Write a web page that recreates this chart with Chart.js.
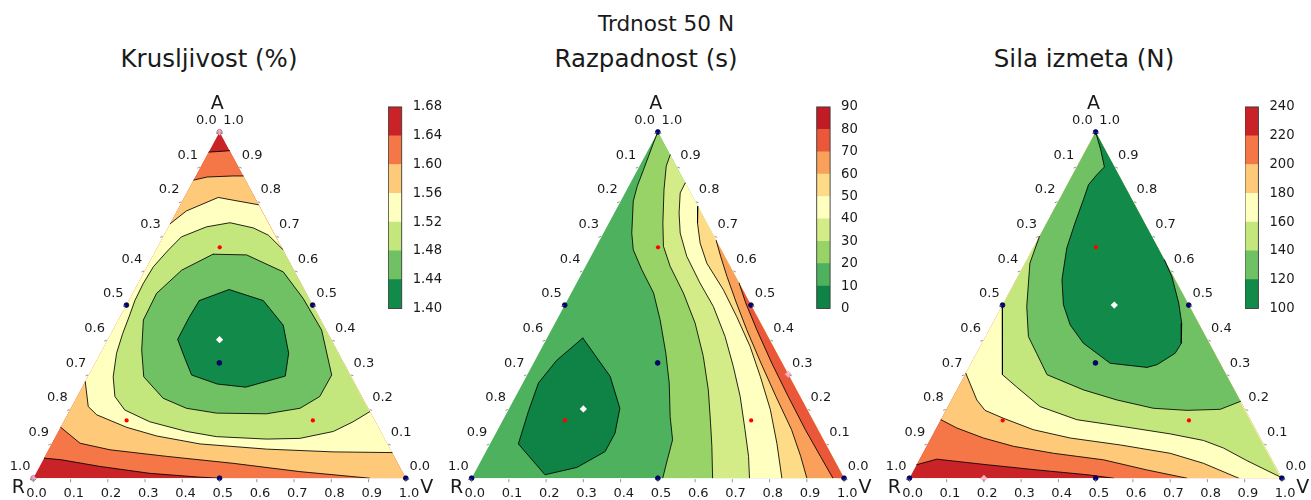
<!DOCTYPE html>
<html>
<head>
<meta charset="utf-8">
<title>Trdnost 50 N</title>
<script src="https://cdn.jsdelivr.net/npm/chart.js@4.4.1/dist/chart.umd.min.js"></script>
<style>
  html, body { margin: 0; padding: 0; background: #ffffff; }
  #fig { position: relative; width: 1311px; height: 500px; overflow: hidden;
         font-family: "DejaVu Sans", sans-serif; color: #1a1a1a; }
  #fig canvas { position: absolute; }
  .ttl { position: absolute; white-space: nowrap; line-height: 1; transform: translateX(-50%); }
</style>
</head>
<body>
<div id="fig">
  <div class="ttl" style="left:666px; top:12.6px; font-size:21.6px;">Trdnost 50 N</div>
  <div class="ttl" style="left:209px; top:47.2px; font-size:24.5px;">Krusljivost (%)</div>
  <div class="ttl" style="left:646px; top:47.2px; font-size:24.5px;">Razpadnost (s)</div>
  <div class="ttl" style="left:1084px; top:47.2px; font-size:24.5px;">Sila izmeta (N)</div>

  <canvas id="triKrus" width="438" height="500" style="left:0px; top:0px;"></canvas>
  <canvas id="triRazp" width="438" height="500" style="left:438px; top:0px;"></canvas>
  <canvas id="triSila" width="438" height="500" style="left:873px; top:0px;"></canvas>

  <canvas id="cbKrus" width="60" height="230" style="left:388px; top:96px;"></canvas>
  <canvas id="cbRazp" width="60" height="230" style="left:816px; top:96px;"></canvas>
  <canvas id="cbSila" width="60" height="230" style="left:1245px; top:96px;"></canvas>
</div>

<script>
// Every composition point is [share of V, share of A]; the share of R is what is left.
const edgeTicks = [0, 0.1, 0.2, 0.3, 0.4, 0.5, 0.6, 0.7, 0.8, 0.9, 1.0];
const edgeTickLabels = ['0.0', '0.1', '0.2', '0.3', '0.4', '0.5', '0.6', '0.7', '0.8', '0.9', '1.0'];
const vertexLabels = ['A', 'R', 'V'];

const cornerR = [0, 0];
const cornerV = [1, 0];
const cornerA = [0, 1];

// design points of the mixture plan
const designVertices = [[0, 0], [1, 0], [0, 1]];
const designEdgeMids = [[0.5, 0], [0, 0.5], [0.5, 0.5]];
const designCentroid = [[0.333, 0.333]];
const designAxial = [[0.167, 0.667], [0.167, 0.167], [0.667, 0.167]];

// ---------- Krusljivost (%) ----------
const krusLevels = [1.40, 1.44, 1.48, 1.52, 1.56, 1.60, 1.64, 1.68];
const krusTickLabels = ['1.40', '1.44', '1.48', '1.52', '1.56', '1.60', '1.64', '1.68'];
const krusColors = ['#128a49', '#6fc164', '#c3e67d', '#ffffbf', '#feca79', '#f57647', '#c92227'];
const krus164Top = [[0, 0.942], [0.029, 0.944], [0.054, 0.946]];
const krus160Top = [[0, 0.861], [0.032, 0.870], [0.100, 0.873], [0.127, 0.873]];
const krus156Top = [[0, 0.735], [0.025, 0.772], [0.091, 0.811], [0.135, 0.803], [0.209, 0.790]];
const krus152 = [[0.339, 0.661], [0.280, 0.702], [0.229, 0.723], [0.159, 0.738], [0.102, 0.726], [0.049, 0.697],
  [0.033, 0.659], [0.017, 0.611], [0.014, 0.563], [0.016, 0.514], [0.024, 0.466], [0.031, 0.418], [0.043, 0.361],
  [0.068, 0.293], [0.101, 0.236], [0.147, 0.197], [0.231, 0.163], [0.344, 0.135], [0.432, 0.120], [0.570, 0.113],
  [0.658, 0.115], [0.738, 0.135], [0.777, 0.163], [0.807, 0.192]];
const krus148 = [[0.159, 0.647], [0.250, 0.645], [0.373, 0.596], [0.465, 0.519], [0.560, 0.428], [0.652, 0.298],
  [0.651, 0.236], [0.615, 0.202], [0.533, 0.186], [0.398, 0.188], [0.310, 0.202], [0.233, 0.231], [0.150, 0.293],
  [0.106, 0.370], [0.067, 0.457], [0.064, 0.534], [0.098, 0.601], [0.159, 0.647]];
const krus144 = [[0.189, 0.513], [0.253, 0.545], [0.361, 0.513], [0.450, 0.442], [0.505, 0.361], [0.529, 0.295],
  [0.439, 0.263], [0.358, 0.272], [0.276, 0.298], [0.234, 0.346], [0.187, 0.401], [0.186, 0.464], [0.189, 0.513]];
const krus156Bot = [[0, 0.279], [0.044, 0.207], [0.079, 0.183], [0.177, 0.147], [0.270, 0.122], [0.398, 0.099],
  [0.584, 0.084], [0.767, 0.076], [0.926, 0.074]];
const krus160Bot = [[0, 0.147], [0.075, 0.101], [0.165, 0.082], [0.327, 0.063], [0.515, 0.043], [0.706, 0.019], [0.903, 0]];
const krus164Bot = [[0, 0.058], [0.050, 0.053], [0.162, 0.034], [0.306, 0.014], [0.446, 0.003], [0.500, 0]];
const krusOptimum = [[0.3, 0.4]];
const krusHighlight = [[0, 1], [0, 0]];

// ---------- Razpadnost (s) ----------
const razpLevels = [0, 10, 20, 30, 40, 50, 60, 70, 80, 90];
const razpTickLabels = ['0', '10', '20', '30', '40', '50', '60', '70', '80', '90'];
const razpColors = ['#0f8345', '#4db15d', '#98d368', '#d3ec87', '#ffffbf', '#fedb86', '#fba05a', '#ea5839', '#c11b26'];
const razp10 = [[0.096, 0.405], [0.153, 0.356], [0.225, 0.294], [0.297, 0.202], [0.320, 0.130], [0.320, 0.077],
  [0.267, 0.031], [0.192, 0.010], [0.076, 0.099], [0.056, 0.193], [0.042, 0.275], [0.058, 0.340], [0.096, 0.405]];
const razp20 = [[0, 1], [0.004, 0.968], [0.010, 0.930], [0.016, 0.891], [0.023, 0.843], [0.034, 0.800], [0.076, 0.708],
  [0.104, 0.660], [0.156, 0.602], [0.221, 0.535], [0.277, 0.458], [0.341, 0.361], [0.393, 0.275], [0.444, 0.178],
  [0.484, 0.111], [0.499, 0.053], [0.513, 0]];
const razp30 = [[0.066, 0.934], [0.072, 0.901], [0.100, 0.833], [0.145, 0.737], [0.180, 0.670], [0.227, 0.612],
  [0.301, 0.535], [0.376, 0.448], [0.446, 0.352], [0.508, 0.255], [0.562, 0.159], [0.599, 0.092], [0.647, 0]];
const razp40 = [[0.147, 0.853], [0.148, 0.824], [0.174, 0.766], [0.206, 0.708], [0.257, 0.641], [0.331, 0.564],
  [0.401, 0.496], [0.476, 0.409], [0.541, 0.323], [0.603, 0.236], [0.664, 0.140], [0.712, 0.063], [0.746, 0]];
const razp50 = [[0.215, 0.785], [0.238, 0.737], [0.274, 0.679], [0.321, 0.621], [0.404, 0.544], [0.478, 0.467],
  [0.557, 0.381], [0.628, 0.294], [0.703, 0.198], [0.769, 0.101], [0.833, 0]];
const razp60 = [[0.313, 0.687], [0.348, 0.641], [0.394, 0.583], [0.458, 0.506], [0.524, 0.429], [0.611, 0.332],
  [0.699, 0.236], [0.789, 0.140], [0.852, 0.063], [0.900, 0]];
const razp70 = [[0.436, 0.564], [0.483, 0.506], [0.551, 0.429], [0.640, 0.332], [0.732, 0.236], [0.826, 0.140],
  [0.905, 0.063], [0.970, 0]];
const razpOptimum = [[0.2, 0.2]];
const razpHighlight = [[0.7, 0.3]];

// ---------- Sila izmeta (N) ----------
const silaLevels = [100, 120, 140, 160, 180, 200, 220, 240];
const silaTickLabels = ['100', '120', '140', '160', '180', '200', '220', '240'];
const silaColors = ['#128a49', '#6fc164', '#c3e67d', '#ffffbf', '#feca79', '#f57647', '#c92227'];
const sila120 = [[0.369, 0.631], [0.413, 0.583], [0.470, 0.506], [0.507, 0.448], [0.535, 0.390], [0.533, 0.361],
  [0.501, 0.328], [0.478, 0.320], [0.373, 0.332], [0.272, 0.390], [0.210, 0.443], [0.163, 0.501], [0.123, 0.573],
  [0.090, 0.665], [0.076, 0.737], [0.065, 0.804], [0.057, 0.848], [0.065, 0.877], [0.074, 0.899], [0.039, 0.949], [0, 1]];
const sila140 = [[0, 0.698], [0.013, 0.621], [0.067, 0.496], [0.115, 0.409], [0.161, 0.361], [0.220, 0.299],
  [0.340, 0.255], [0.444, 0.226], [0.554, 0.202], [0.647, 0.196], [0.735, 0.199], [0.778, 0.222]];
const sila160 = [[0, 0.499], [0.025, 0.448], [0.101, 0.299], [0.157, 0.263], [0.247, 0.207], [0.365, 0.169],
  [0.500, 0.149], [0.636, 0.128], [0.735, 0.109], [0.800, 0.087], [0.880, 0.051], [0.995, 0.003]];
const sila180 = [[0, 0.303], [0.068, 0.226], [0.105, 0.196], [0.166, 0.173], [0.263, 0.140], [0.374, 0.116],
  [0.518, 0.096], [0.664, 0.072], [0.768, 0.043], [0.884, 0]];
const sila200 = [[0, 0.169], [0.055, 0.145], [0.141, 0.116], [0.234, 0.092], [0.351, 0.072], [0.495, 0.053],
  [0.625, 0.024], [0.745, 0]];
const sila220 = [[0, 0.039], [0.046, 0.055], [0.188, 0.039], [0.330, 0.024], [0.472, 0.010], [0.548, 0]];
const silaOptimum = [[0.3, 0.5]];
const silaHighlight = [[0.2, 0]];

// ---------- helpers ----------
const toXY = ([v, a]) => ({ x: v + a / 2, y: a });
const rev = arr => arr.slice().reverse();
const FONT = '"DejaVu Sans", sans-serif';
const INK = '#1a1a1a';

// edge ticks, edge labels and corner names of the ternary frame
const ternaryFrame = {
  id: 'ternaryFrame',
  afterDraw(chart) {
    const { ctx } = chart;
    const xs = chart.scales.x, ys = chart.scales.y;
    const at = (v, a) => [xs.getPixelForValue(v + a / 2), ys.getPixelForValue(a)];
    ctx.save();
    ctx.strokeStyle = '#777';
    ctx.lineWidth = 0.8;
    ctx.fillStyle = INK;
    ctx.font = '13px ' + FONT;
    ctx.textAlign = 'center';
    ctx.textBaseline = 'middle';
    edgeTicks.forEach((t, i) => {
      const txt = edgeTickLabels[i];
      const [bx, by] = at(t, 0);
      const [lx, ly] = at(0, 1 - t);
      const [rx, ry] = at(1 - t, t);
      ctx.beginPath();
      ctx.moveTo(bx, by + 1); ctx.lineTo(bx, by + 4);
      ctx.moveTo(lx - 1, ly + 0.5); ctx.lineTo(lx - 3.5, ly + 1.5);
      ctx.moveTo(rx + 1, ry + 0.5); ctx.lineTo(rx + 3.5, ry + 1.5);
      ctx.stroke();
      ctx.fillText(txt, bx + 3.2, by + 15.8);
      ctx.fillText(txt, lx - 13.2, ly - 11.2);
      ctx.fillText(txt, rx + 14, ry - 11.2);
    });
    ctx.font = '19px ' + FONT;
    const [ax, ay] = at(0, 1);
    const [qx, qy] = at(0, 0);
    const [vx, vy] = at(1, 0);
    ctx.fillText(vertexLabels[0], ax - 2.2, ay - 27.9);
    ctx.fillText(vertexLabels[1], qx - 15, qy + 10.1);
    ctx.fillText(vertexLabels[2], vx + 20.9, vy + 10.1);
    ctx.restore();
  }
};

function markerSet(points, style) {
  return Object.assign({
    data: points.map(toXY), showLine: false, clip: false, borderWidth: 0.8
  }, style);
}

function ternaryChart(id, pad, bands, colors, lines, optimum, highlight) {
  const n = bands.length;
  const datasets = [];
  bands.forEach((pts, i) => datasets.push({
    data: pts.map(toXY), showLine: true, fill: 'shape', backgroundColor: colors[i],
    borderColor: 'rgba(0,0,0,0)', borderWidth: 0, pointRadius: 0, order: 100 + n - i
  }));
  lines.forEach(pts => datasets.push({
    data: pts.map(toXY), showLine: true, fill: false, borderColor: 'rgba(0,0,0,0.85)',
    borderWidth: 1, pointRadius: 0, order: 20
  }));
  const allBlue = designVertices.concat(designEdgeMids, designCentroid);
  datasets.push(markerSet(allBlue, { pointRadius: 2.4, backgroundColor: '#00008b', borderColor: '#000033', order: 5 }));
  datasets.push(markerSet(designAxial, { pointRadius: 2.1, backgroundColor: '#ff0000', borderColor: '#e00000', borderWidth: 0, order: 5 }));
  datasets.push(markerSet(highlight, { pointStyle: 'rectRot', pointRadius: 3.2, backgroundColor: 'rgba(255,190,205,0.9)', borderColor: 'rgba(240,150,170,0.9)', order: 3 }));
  datasets.push(markerSet(optimum, { pointStyle: 'rectRot', pointRadius: 3.6, backgroundColor: '#ffffff', borderColor: '#ffffff', borderWidth: 0, order: 2 }));

  return new Chart(document.getElementById(id), {
    type: 'scatter',
    data: { datasets },
    options: {
      responsive: false, animation: false, devicePixelRatio: 1, events: [],
      layout: { padding: pad },
      plugins: { legend: { display: false }, tooltip: { enabled: false }, title: { display: false } },
      elements: { line: { tension: 0, borderJoinStyle: 'round', borderCapStyle: 'round' } },
      scales: {
        x: { type: 'linear', min: 0, max: 1, display: false },
        y: { type: 'linear', min: 0, max: 1, display: false }
      }
    },
    plugins: [ternaryFrame]
  });
}

// thin frame around the colour bar
const barFrame = {
  id: 'barFrame',
  afterDatasetsDraw(chart) {
    const { ctx, chartArea: c } = chart;
    ctx.save();
    ctx.strokeStyle = '#3a3a3a';
    ctx.lineWidth = 0.9;
    ctx.strokeRect(c.left, c.top, c.right - c.left, c.bottom - c.top);
    ctx.restore();
  }
};

function colorBar(id, padLeft, levels, colors, labels) {
  const W = 60, BAR = 13.4;
  return new Chart(document.getElementById(id), {
    type: 'bar',
    data: {
      labels: [''],
      datasets: colors.map((c, i) => ({
        data: [[levels[i], levels[i + 1]]], backgroundColor: c, borderWidth: 0,
        barPercentage: 1, categoryPercentage: 1, grouped: false
      }))
    },
    options: {
      responsive: false, animation: false, devicePixelRatio: 1, events: [],
      layout: { padding: { left: padLeft, right: 0, top: 10, bottom: 17.5 } },
      plugins: { legend: { display: false }, tooltip: { enabled: false } },
      scales: {
        x: { display: false },
        y: {
          position: 'right', min: levels[0], max: levels[levels.length - 1],
          grid: { display: false }, border: { display: false },
          afterBuildTicks: s => { s.ticks = levels.map(v => ({ value: v })); },
          afterFit: s => { s.width = W - padLeft - BAR; },
          ticks: { padding: 3, autoSkip: false, color: INK, font: { family: FONT, size: 13.2 },
                   callback: (v, i) => labels[i] }
        }
      }
    },
    plugins: [barFrame]
  });
}

// ---------- Krusljivost ----------
ternaryChart('triKrus', { left: 33.3, right: 32.2, top: 132, bottom: 21.8 },
  [
    [cornerR, cornerV, cornerA],
    [...krus164Top, cornerV, ...rev(krus164Bot)],
    [...krus160Top, cornerV, ...rev(krus160Bot)],
    [...krus156Top, ...rev(krus156Bot)],
    krus152,
    krus148,
    krus144
  ],
  [krusColors[6], krusColors[5], krusColors[4], krusColors[3], krusColors[2], krusColors[1], krusColors[0]],
  [krus164Top, krus160Top, krus156Top, krus152, krus148, krus144, krus156Bot, krus160Bot, krus164Bot],
  krusOptimum, krusHighlight);

// ---------- Razpadnost ----------
ternaryChart('triRazp', { left: 33.6, right: 31.9, top: 132, bottom: 21.8 },
  [
    [cornerR, cornerV, cornerA],
    [...razp20, cornerV],
    [...razp30, cornerV],
    [...razp40, cornerV],
    [...razp50, cornerV],
    [...razp60, cornerV],
    [...razp70, cornerV],
    razp10
  ],
  [razpColors[1], razpColors[2], razpColors[3], razpColors[4], razpColors[5], razpColors[6], razpColors[7], razpColors[0]],
  [razp10, razp20, razp30, razp40, razp50, razp60, razp70],
  razpOptimum, razpHighlight);

// ---------- Sila izmeta ----------
ternaryChart('triSila', { left: 36.4, right: 29.1, top: 132, bottom: 21.8 },
  [
    [cornerR, cornerV, cornerA],
    [...sila220, cornerV, cornerA],
    [...sila200, cornerV, cornerA],
    [...sila180, cornerV, cornerA],
    [...sila160, cornerA],
    [...sila140, cornerA],
    sila120
  ],
  [silaColors[6], silaColors[5], silaColors[4], silaColors[3], silaColors[2], silaColors[1], silaColors[0]],
  [sila120, sila140, sila160, sila180, sila200, sila220],
  silaOptimum, silaHighlight);

colorBar('cbKrus', 0.3, krusLevels, krusColors, krusTickLabels);
colorBar('cbRazp', 0.7, razpLevels, razpColors, razpTickLabels);
colorBar('cbSila', 0.0, silaLevels, silaColors, silaTickLabels);
</script>
</body>
</html>
